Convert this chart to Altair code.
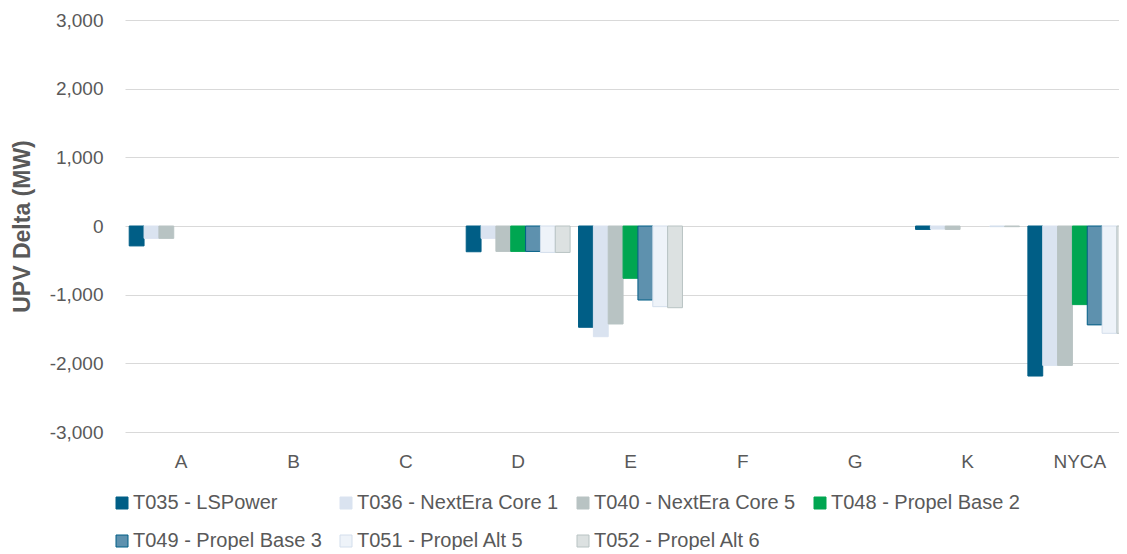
import altair as alt
import pandas as pd

zones = ["A", "B", "C", "D", "E", "F", "G", "K", "NYCA"]
series = [
    "T035 - LSPower",
    "T036 - NextEra Core 1",
    "T040 - NextEra Core 5",
    "T048 - Propel Base 2",
    "T049 - Propel Base 3",
    "T051 - Propel Alt 5",
    "T052 - Propel Alt 6",
]
t035 = [-290, 0, 0, -375, -1475, 0, 0, -50, -2185]
t036 = [-180, 0, 0, -180, -1612, 0, 0, -45, -2030]
t040 = [-180, 0, 0, -370, -1427, 0, 0, -50, -2030]
t048 = [0, 0, 0, -370, -762, 0, 0, 0, -1145]
t049 = [0, 0, 0, -370, -1078, 0, 0, 0, -1440]
t051 = [0, 0, 0, -385, -1175, 0, 0, -10, -1563]
t052 = [0, 0, 0, -385, -1190, 0, 0, -10, -1563]
y_ticks = [-3000, -2000, -1000, 0, 1000, 2000, 3000]

fill_colors = ["#005E86", "#DAE3F0", "#B8C3C3", "#00A651", "#5E91AE", "#EEF3F9", "#DCE1E1"]
stroke_colors = ["#005E86", "#DAE3F0", "#B8C3C3", "#00A651", "#005E86", "#D3DEEC", "#B8C3C3"]

rows = []
for name, vals in zip(series, [t035, t036, t040, t048, t049, t051, t052]):
    for z, v in zip(zones, vals):
        rows.append({"zone": z, "series": name, "value": v})
df = pd.DataFrame(rows)

FONT = "Liberation Sans"
GREY = "#595959"

chart = (
    alt.Chart(df)
    .transform_filter("datum.value != 0")
    .mark_bar(strokeWidth=1)
    .encode(
        x=alt.X(
            "zone:N",
            sort=zones,
            scale=alt.Scale(domain=zones, range=[0, 1011], paddingInner=0.075, paddingOuter=0.0375),
            axis=alt.Axis(
                title=None, domain=False, ticks=False, tickSize=0, grid=False,
                labelFont=FONT, labelFontSize=19, labelColor=GREY, labelPadding=20, labelAngle=0,
            ),
        ),
        xOffset=alt.XOffset(
            "series:N",
            sort=series,
            scale=alt.Scale(domain=series, paddingInner=0, paddingOuter=0),
        ),
        y=alt.Y(
            "value:Q",
            scale=alt.Scale(domain=[-3000, 3000], nice=False, zero=False),
            axis=alt.Axis(
                title="UPV Delta (MW)",
                values=y_ticks,
                format=",.0f",
                labelExpr="replace(datum.label, '\u2212', '-')",
                domain=False, ticks=False, tickSize=0,
                grid=True, gridColor="#D9D9D9", gridWidth=1,
                labelFont=FONT, labelFontSize=19, labelColor=GREY, labelPadding=22,
                titleFont=FONT, titleFontSize=23, titleFontWeight="bold", titleColor=GREY,
                titlePadding=15,
            ),
        ),
        fill=alt.Fill(
            "series:N",
            sort=series,
            scale=alt.Scale(domain=series, range=fill_colors),
            legend=alt.Legend(
                title=None, orient="none", legendX=-13, legendY=473,
                direction="horizontal", columns=4, columnPadding=14, rowPadding=18,
                symbolType="square", symbolSize=144, symbolStrokeWidth=1,
                labelFont=FONT, labelFontSize=20, labelColor=GREY, labelLimit=400,
                labelOffset=1, padding=0,
            ),
        ),
        stroke=alt.Stroke(
            "series:N",
            sort=series,
            scale=alt.Scale(domain=series, range=stroke_colors),
            legend=None,
        ),
    )
    .properties(
        width=994,
        height=412,
        padding={"left": 117, "top": 12, "right": 0, "bottom": 118},
        autosize=alt.AutoSizeParams(type="none"),
    )
    .configure_view(stroke=None)
)

chart.save("out.html", embed_options={"renderer": "svg", "actions": False})
